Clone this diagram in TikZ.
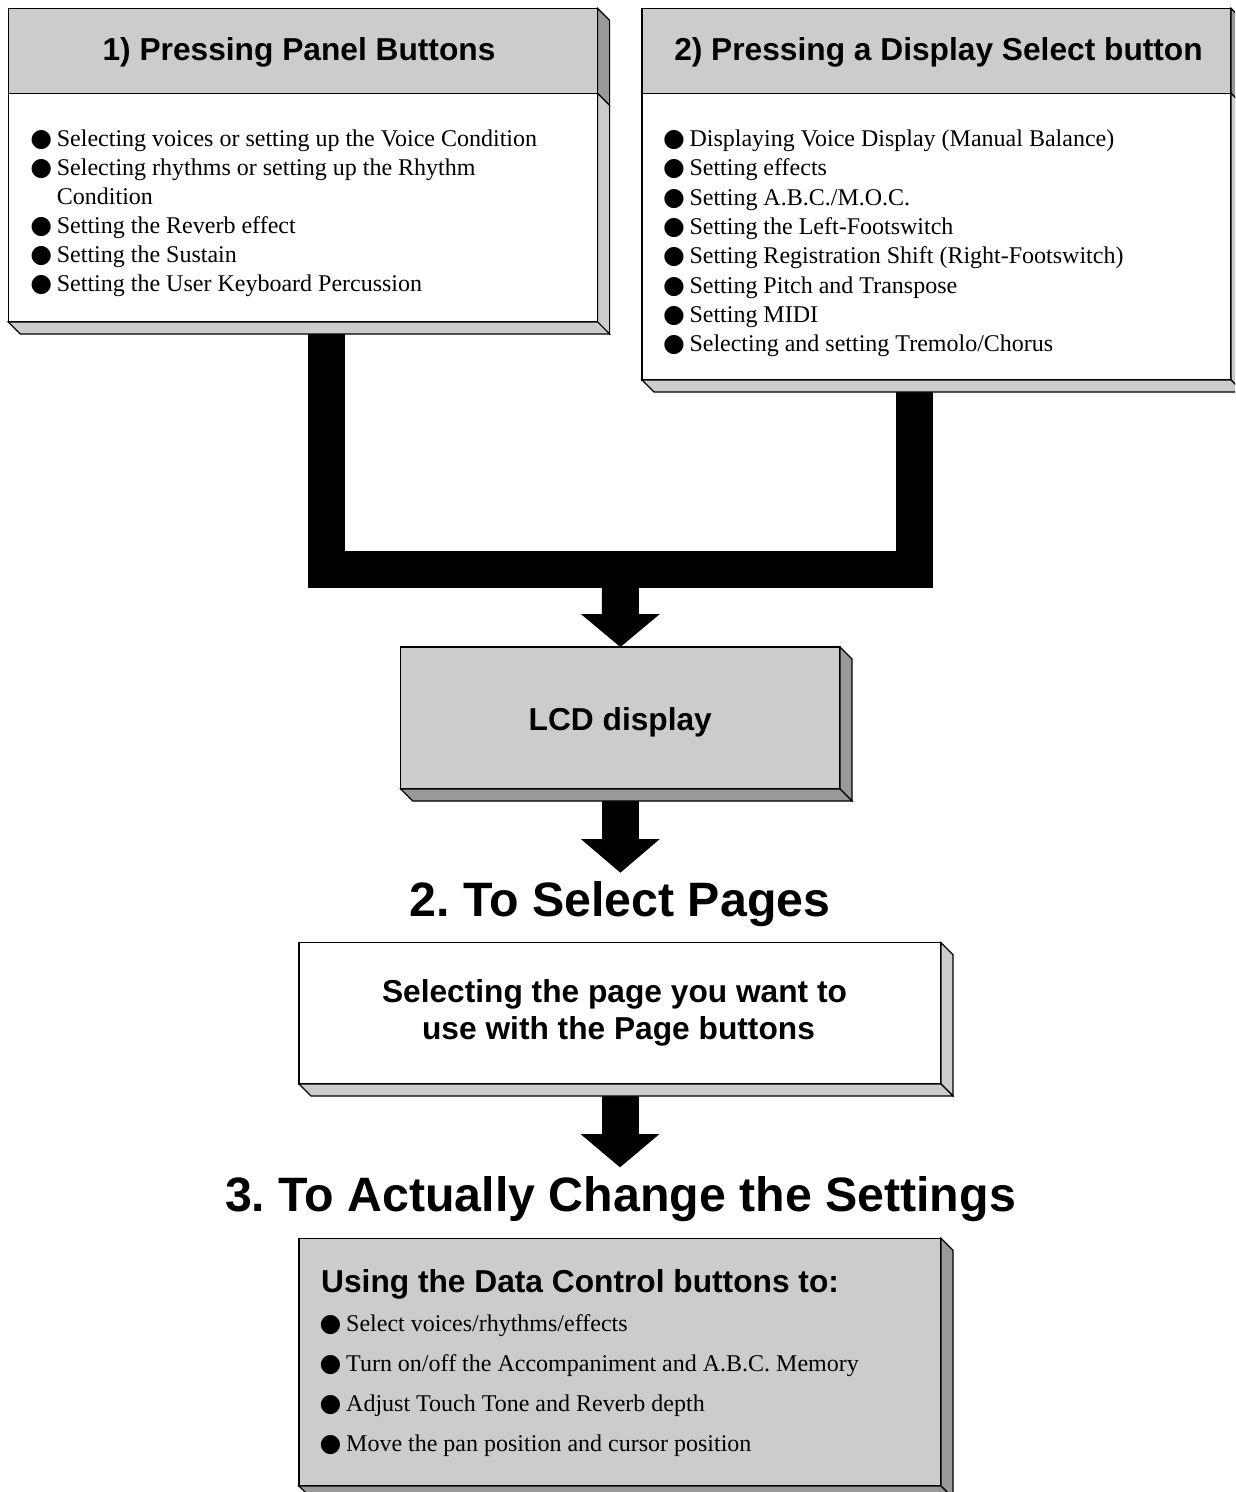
\documentclass[tikz,border=0pt]{standalone}
\usepackage{fontspec}
\setmainfont{Liberation Serif}
\newfontfamily\hsf{Liberation Sans}
\newfontfamily\bulf{DejaVu Sans}
\usetikzlibrary{calc,backgrounds}
\definecolor{face}{HTML}{CCCCCC}
\definecolor{shade}{HTML}{999999}
\newcommand\bl{\makebox[25pt][l]{\hspace{-1.5pt}\bulf\fontsize{25}{25}\selectfont ●}}
\newcommand\rightface[2]{\filldraw[side,fill=#2] (#1.north east) -- ++(12,12) -- ([shift={(12,12)}]#1.south east) -- (#1.south east) -- cycle;}
\newcommand\bottomface[2]{\filldraw[side,fill=#2] (#1.south west) -- ++(12,12) -- ([shift={(12,12)}]#1.south east) -- (#1.south east) -- cycle;}
\frenchspacing
\begin{document}
\frenchspacing
\begin{tikzpicture}[x=1pt,y=-1pt,
  front/.style={draw=black, line width=1.2pt, inner sep=0pt, outer sep=0pt, anchor=north west},
  side/.style={draw=black, line width=1.2pt, line join=miter},
  hdr/.style={font=\hsf\bfseries\fontsize{31.7}{38}\selectfont, inner sep=0pt, anchor=base},
  ttl/.style={font=\hsf\bfseries\fontsize{48.3}{57}\selectfont, inner sep=0pt, anchor=base},
  itm/.style={font=\fontsize{24}{29}\selectfont, inner sep=0pt, anchor=base west},
  bar/.style={line width=37pt, draw=black, line join=miter}]
\clip (0,0) rectangle (1235,1492);

% box fronts
\node[front, fill=face, minimum width=589.3pt, minimum height=85pt] (h1) at (8.3,8.3) {};
\node[front, fill=white, minimum width=589.3pt, minimum height=228.7pt] (b1) at (8.3,93.3) {};
\node[front, fill=face, minimum width=589pt, minimum height=85pt] (h2) at (642,8.3) {};
\node[front, fill=white, minimum width=589pt, minimum height=286.7pt] (b2) at (642,93.3) {};
\node[front, fill=face, minimum width=439.3pt, minimum height=142pt] (lcd) at (400.7,647) {};
\node[front, fill=white, minimum width=642pt, minimum height=141.3pt] (pg) at (299,942.7) {};
\node[front, fill=face, minimum width=642pt, minimum height=247.7pt] (dc) at (299,1238.3) {};

% side faces
\rightface{h1}{shade}
\rightface{b1}{face}
\bottomface{b1}{face}
\rightface{h2}{shade}
\rightface{b2}{face}
\bottomface{b2}{face}
\rightface{lcd}{shade}
\bottomface{lcd}{shade}
\rightface{pg}{face}
\bottomface{pg}{face}
\rightface{dc}{shade}
\bottomface{dc}{shade}

% connectors (block arrows)
\coordinate (mid) at (620.5,569.5);
\coordinate (tip2) at ([yshift=-83.7pt]lcd.south);
\coordinate (tip3) at ([yshift=-83.3pt]pg.south);
\begin{pgfonlayer}{background}
\draw[bar] ([xshift=318.2pt]b1.south west) |- (mid) -| ([xshift=272.5pt]b2.south west);
\draw[bar] (mid) -- ([yshift=32pt]lcd.north);
\fill (lcd.north) -- ++(-39.5,-33) -- ++(79,0) -- cycle;
\draw[bar] (lcd.south) -- ([yshift=33pt]tip2);
\fill (tip2) -- ++(-39.5,-33.7) -- ++(79,0) -- cycle;
\draw[bar] (pg.south) -- ([yshift=32pt]tip3);
\fill (tip3) -- ++(-39.5,-33.3) -- ++(79,0) -- cycle;
\end{pgfonlayer}

% headers and titles
\node[hdr] (h1t) at (299,60.3) {1) Pressing Panel Buttons};
\node[hdr] (h2t) at (938.5,60.3) {2) Pressing a Display Select button};
\node[hdr] (lcdt) at (620.3,730) {LCD display};
\node[ttl] (t2) at (620,916.7) {2. To Select Pages};
\node[hdr] (pg1) at (614.5,1002) {Selecting the page you want to};
\node[hdr] (pg2) at (618.5,1039.5) {use with the Page buttons};
\node[ttl] (t3) at (620.5,1211.7) {3. To Actually Change the Settings};
\node[hdr, anchor=base west] (dct) at (321,1292) {Using the Data Control buttons to:};

% box 1 items
\node[itm] (a1) at (31.7,146.2) {\bl Selecting voices or setting up the Voice Condition};
\node[itm] (a2) at (31.7,175.35) {\bl Selecting rhythms or setting up the Rhythm};
\node[itm] (a2c) at (56.7,204.5) {Condition};
\node[itm] (a3) at (31.7,233.65) {\bl Setting the Reverb effect};
\node[itm] (a4) at (31.7,262.8) {\bl Setting the Sustain};
\node[itm] (a5) at (31.7,291.95) {\bl Setting the User Keyboard Percussion};

% box 2 items
\node[itm] (c1) at (664.3,146.5) {\bl Displaying Voice Display (Manual Balance)};
\node[itm] (c2) at (664.3,175.8) {\bl Setting effects};
\node[itm] (c3) at (664.3,205.1) {\bl Setting A.B.C./M.O.C.};
\node[itm] (c4) at (664.3,234.4) {\bl Setting the Left-Footswitch};
\node[itm] (c5) at (664.3,263.7) {\bl Setting Registration Shift (Right-Footswitch)};
\node[itm] (c6) at (664.3,293.0) {\bl Setting Pitch and Transpose};
\node[itm] (c7) at (664.3,322.3) {\bl Setting MIDI};
\node[itm] (c8) at (664.3,351.6) {\bl Selecting and setting Tremolo/Chorus};

% last box items
\node[itm] (d1) at (321,1331.5) {\bl Select voices/rhythms/effects};
\node[itm] (d2) at (321,1371.5) {\bl Turn on/off the Accompaniment and A.B.C. Memory};
\node[itm] (d3) at (321,1411.5) {\bl Adjust Touch Tone and Reverb depth};
\node[itm] (d4) at (321,1451.5) {\bl Move the pan position and cursor position};
\end{tikzpicture}
\end{document}
